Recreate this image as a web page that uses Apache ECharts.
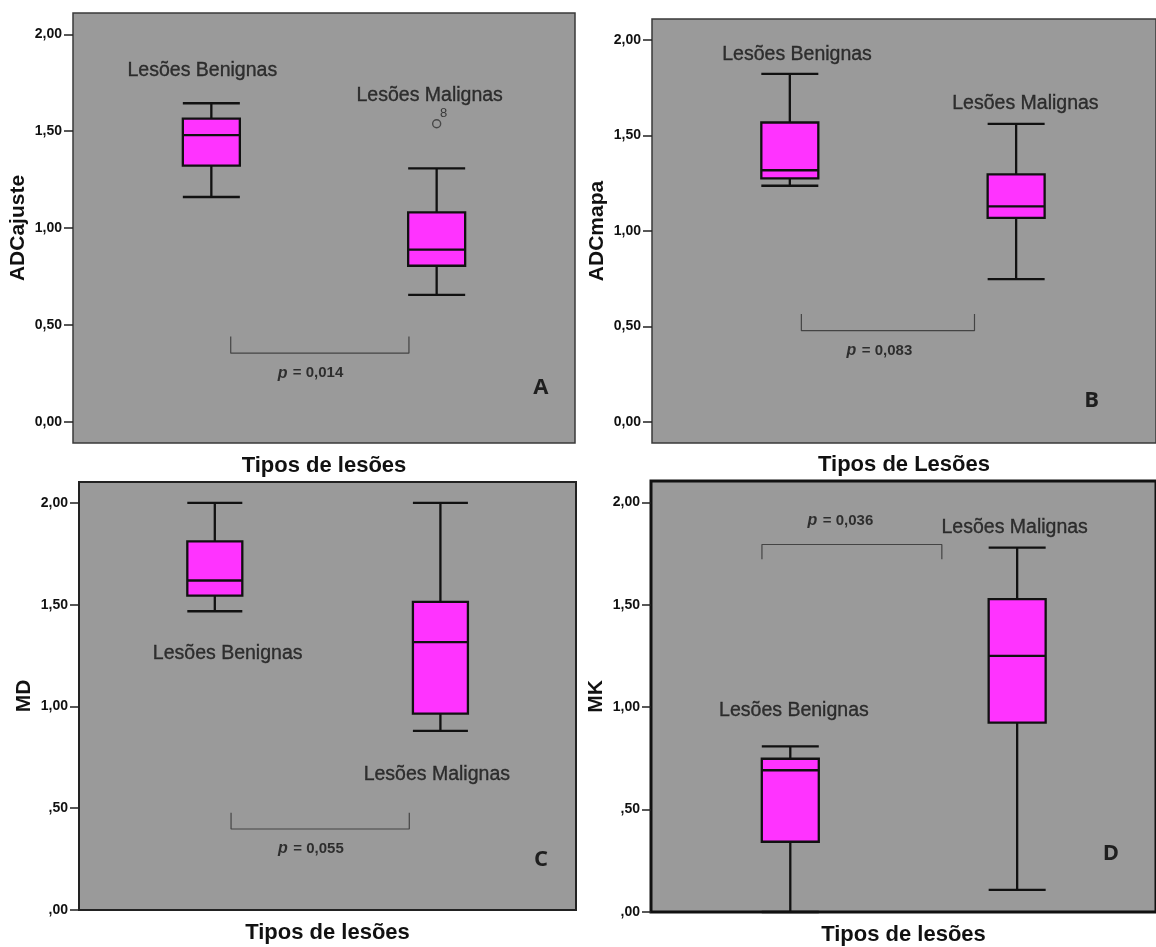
<!DOCTYPE html>
<html>
<head>
<meta charset="utf-8">
<title>Tipos de lesões – ADC, MD, MK</title>
<script src="https://cdn.jsdelivr.net/npm/echarts@6/dist/echarts.min.js"></script>
<style>
  html, body { margin: 0; padding: 0; background: #ffffff; }
  #chart { width: 1156px; height: 947px; }
</style>
</head>
<body>
<div id="chart"></div>
<script>
// ---- data ----------------------------------------------------------------
const categories = ['Lesões Benignas', 'Lesões Malignas'];
const boxPositions = [1, 2];

// five-number summaries: [lower whisker, Q1, median, Q3, upper whisker]
const adcAjusteBenign = [1.160, 1.322, 1.479, 1.565, 1.644];
const adcAjusteMalign = [0.655, 0.805, 0.888, 1.081, 1.308];
const adcAjusteOutliers = [[2, 1.538, '8']];

const adcMapaBenign = [1.237, 1.276, 1.318, 1.568, 1.823];
const adcMapaMalign = [0.748, 1.069, 1.129, 1.297, 1.561];

const mdBenign = [1.468, 1.545, 1.619, 1.811, 2.000];
const mdMalign = [0.880, 0.965, 1.316, 1.514, 2.000];

const mkBenign = [0.000, 0.343, 0.692, 0.748, 0.809];
const mkMalign = [0.108, 0.924, 1.250, 1.527, 1.779];

const pValues = ['0,014', '0,083', '0,055', '0,036'];
const panelLetters = ['A', 'B', 'C', 'D'];
const yAxisNames = ['ADCajuste', 'ADCmapa', 'MD', 'MK'];
const xAxisNames = ['Tipos de lesões', 'Tipos de Lesões', 'Tipos de lesões', 'Tipos de lesões'];

const tickValues = [0, 0.5, 1, 1.5, 2];
const tickLabelsLong = ['0,00', '0,50', '1,00', '1,50', '2,00'];
const tickLabelsShort = [',00', ',50', '1,00', '1,50', '2,00'];

// ---- layout of the four panels -------------------------------------------
const FONT = 'Liberation Sans, Arial, Helvetica, sans-serif';
const panels = [
  {
    benign: adcAjusteBenign, malign: adcAjusteMalign, outliers: adcAjusteOutliers,
    ticks: tickLabelsLong,
    grid: { left: 73, top: 13, width: 502, height: 430 },
    xRange: [0.386, 2.614], yRange: [-0.11, 2.11],
    frame: { color: '#3a3a3a', width: 1.5 }, boxWidth: 57, xNameGap: 12,
    labelPos: [[0.960, 1.810], [1.969, 1.686]],
    bracket: [[1.086, 0.440], [1.086, 0.354], [1.877, 0.354], [1.877, 0.440]],
    pPos: [1.440, 0.250], letterPos: [2.462, 0.174]
  },
  {
    benign: adcMapaBenign, malign: adcMapaMalign, outliers: [],
    ticks: tickLabelsLong,
    grid: { left: 652, top: 19, width: 519, height: 424 },
    xRange: [0.391, 2.618], yRange: [-0.11, 2.11],
    frame: { color: '#3a3a3a', width: 1.5 }, boxWidth: 57, xNameGap: 11,
    labelPos: [[1.032, 1.924], [2.041, 1.667]],
    bracket: [[1.051, 0.566], [1.051, 0.478], [1.816, 0.478], [1.816, 0.566]],
    pPos: [1.396, 0.373], letterPos: [2.334, 0.110]
  },
  {
    benign: mdBenign, malign: mdMalign, outliers: [],
    ticks: tickLabelsShort,
    grid: { left: 79, top: 482, width: 497, height: 428 },
    xRange: [0.398, 2.601], yRange: [0, 2.103],
    frame: { color: '#222222', width: 2 }, boxWidth: 55, xNameGap: 12,
    labelPos: [[1.057, 1.259], [1.984, 0.664]],
    bracket: [[1.072, 0.478], [1.072, 0.398], [1.862, 0.398], [1.862, 0.478]],
    pPos: [1.426, 0.300], letterPos: [2.446, 0.246]
  },
  {
    benign: mkBenign, malign: mkMalign, outliers: [],
    ticks: tickLabelsShort,
    grid: { left: 651, top: 481, width: 512, height: 436 },
    xRange: [0.386, 2.612], yRange: [0, 2.104],
    frame: { color: '#111111', width: 3 }, boxWidth: 57, xNameGap: 12,
    labelPos: [[1.016, 0.982], [1.989, 1.877]],
    bracket: [[0.875, 1.722], [0.875, 1.794], [1.668, 1.794], [1.668, 1.722]],
    pPos: [1.221, 1.910], letterPos: [2.413, 0.282]
  }
];

// ---- option ----------------------------------------------------------------
const grids = [], xAxes = [], yAxes = [], series = [];

panels.forEach((p, i) => {
  grids.push(Object.assign({
    show: true,
    backgroundColor: '#9a9a9a',
    borderColor: p.frame.color,
    borderWidth: p.frame.width,
    containLabel: false
  }, p.grid));

  xAxes.push({
    type: 'value', gridIndex: i,
    min: p.xRange[0], max: p.xRange[1],
    axisLine: { show: false }, axisTick: { show: false },
    axisLabel: { show: false }, splitLine: { show: false },
    name: xAxisNames[i], nameLocation: 'middle', nameGap: p.xNameGap,
    nameTextStyle: { fontFamily: FONT, fontSize: 22, fontWeight: 'bold', color: '#111', verticalAlign: 'top' }
  });

  yAxes.push({
    type: 'value', gridIndex: i,
    min: p.yRange[0], max: p.yRange[1],
    axisLine: { show: false },
    axisTick: { show: true, length: 9, customValues: tickValues,
                lineStyle: { color: '#222', width: 1.5 } },
    axisLabel: {
      customValues: tickValues, margin: 11,
      fontFamily: FONT, fontSize: 14, fontWeight: 'bold', color: '#111',
      formatter: v => p.ticks[tickValues.indexOf(Math.round(v * 2) / 2)]
    },
    splitLine: { show: false },
    name: yAxisNames[i], nameLocation: 'middle', nameRotate: 90, nameGap: 44,
    nameTextStyle: { fontFamily: FONT, fontSize: 21, fontWeight: 'bold', color: '#111' }
  });

  series.push({
    type: 'boxplot', xAxisIndex: i, yAxisIndex: i,
    silent: true, animation: false,
    boxWidth: [p.boxWidth, p.boxWidth],
    itemStyle: { color: '#ff33ff', borderColor: '#111', borderWidth: 2.3 },
    data: [
      [boxPositions[0]].concat(p.benign),
      [boxPositions[1]].concat(p.malign)
    ]
  });

  if (p.outliers.length) {
    series.push({
      type: 'scatter', xAxisIndex: i, yAxisIndex: i,
      silent: true, animation: false,
      symbol: 'circle', symbolSize: 8,
      itemStyle: { color: 'rgba(0,0,0,0)', borderColor: '#333', borderWidth: 1.4 },
      label: {
        show: true, position: [8, -12],
        formatter: d => d.value[2],
        fontFamily: FONT, fontSize: 13, color: '#222'
      },
      data: p.outliers.map(o => ({ value: o }))
    });
  }

  // significance bracket between the two groups
  series.push({
    type: 'line', xAxisIndex: i, yAxisIndex: i,
    silent: true, animation: false,
    symbol: 'none',
    lineStyle: { color: '#444', width: 1.2 },
    data: p.bracket
  });

  // group names, p-value and panel letter
  const txt = [
    { value: p.labelPos[0], name: categories[0] },
    { value: p.labelPos[1], name: categories[1] },
    {
      value: p.pPos, name: 'p',
      label: {
        formatter: '{i|p} {n|= ' + pValues[i] + '}',
        textBorderWidth: 0,
        rich: {
          i: { fontFamily: FONT, fontSize: 16, fontStyle: 'italic', fontWeight: 'bold', color: '#111' },
          n: { fontFamily: FONT, fontSize: 15, fontWeight: 'bold', color: '#111' }
        }
      }
    },
    {
      value: p.letterPos, name: panelLetters[i],
      label: { fontFamily: 'Open Sans, Liberation Sans, sans-serif', fontSize: 22, fontWeight: 'bold',
               color: '#000', textBorderWidth: 0 }
    }
  ];
  series.push({
    type: 'scatter', xAxisIndex: i, yAxisIndex: i,
    silent: true, animation: false,
    symbolSize: 1,
    itemStyle: { color: 'rgba(0,0,0,0)' },
    label: {
      show: true, position: 'inside', formatter: '{b}',
      fontFamily: FONT, fontSize: 19.5, color: '#141414',
      textBorderColor: '#141414', textBorderWidth: 0.35
    },
    data: txt
  });
});

const chart = echarts.init(document.getElementById('chart'), null, { renderer: 'canvas' });
chart.setOption({
  backgroundColor: '#ffffff',
  animation: false,
  grid: grids,
  xAxis: xAxes,
  yAxis: yAxes,
  series: series
});
</script>
</body>
</html>
